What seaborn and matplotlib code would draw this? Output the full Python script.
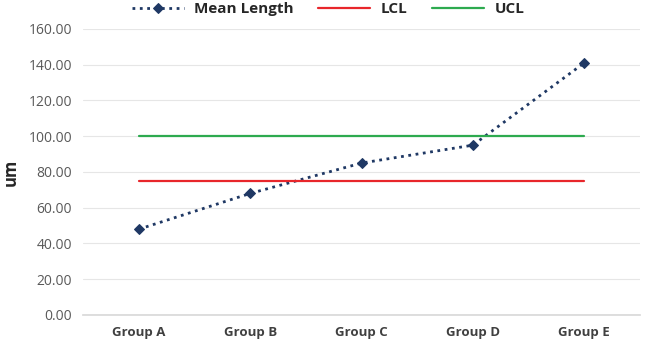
import matplotlib
matplotlib.use("Agg")
import matplotlib.pyplot as plt
import seaborn as sns
import pandas as pd
import numpy as np

groups = ["Group A", "Group B", "Group C", "Group D", "Group E"]
mean_length = [48, 68, 85, 95, 141]
lcl = [75, 75, 75, 75, 75]
ucl = [100, 100, 100, 100, 100]
yticks = [0, 20, 40, 60, 80, 100, 120, 140, 160]

sns.set_theme(style="white")
plt.rcParams["font.family"] = ["Open Sans", "DejaVu Sans"]

df = pd.DataFrame({"x": np.arange(len(groups)), "mean": mean_length, "lcl": lcl, "ucl": ucl})

fig = plt.figure(figsize=(6.45, 3.45), dpi=100)
ax = fig.add_axes([0.129, 0.087, 0.863, 0.829])

sns.lineplot(data=df, x="x", y="mean", ax=ax, color="#1F3864", linestyle=":", linewidth=2,
             marker="D", markersize=5, markeredgecolor="#1F3864", label="Mean Length")
sns.lineplot(data=df, x="x", y="lcl", ax=ax, color="#E8262B", linewidth=1.6, label="LCL")
sns.lineplot(data=df, x="x", y="ucl", ax=ax, color="#2DAA4F", linewidth=1.6, label="UCL")

ax.set_xlim(-0.5, len(groups) - 0.5)
ax.set_ylim(0, 160)
ax.set_yticks(yticks)
ax.set_yticklabels([f"{v:.2f}" for v in yticks], fontsize=10, color="#595959")
ax.set_xticks(range(len(groups)))
ax.set_xticklabels(groups, fontsize=9.5, fontweight="bold", color="#404040")
ax.tick_params(axis="both", length=0, pad=8)
ax.grid(axis="y", color="#E6E6E6", linewidth=0.8)
ax.set_axisbelow(True)
for s in ["top", "right", "left"]:
    ax.spines[s].set_visible(False)
ax.spines["bottom"].set_color("#D9D9D9")
ax.set_xlabel("")
ax.set_ylabel("um", fontsize=12, fontweight="bold", color="#262626", labelpad=6)

leg = ax.legend(loc="center", bbox_to_anchor=(0.44, 1.07), ncol=3, frameon=False,
                prop={"weight": "bold", "size": 11}, handlelength=3.4, columnspacing=1.6,
                handletextpad=0.7)
for t in leg.get_texts():
    t.set_color("#262626")

fig.savefig("out.png", dpi=100)
